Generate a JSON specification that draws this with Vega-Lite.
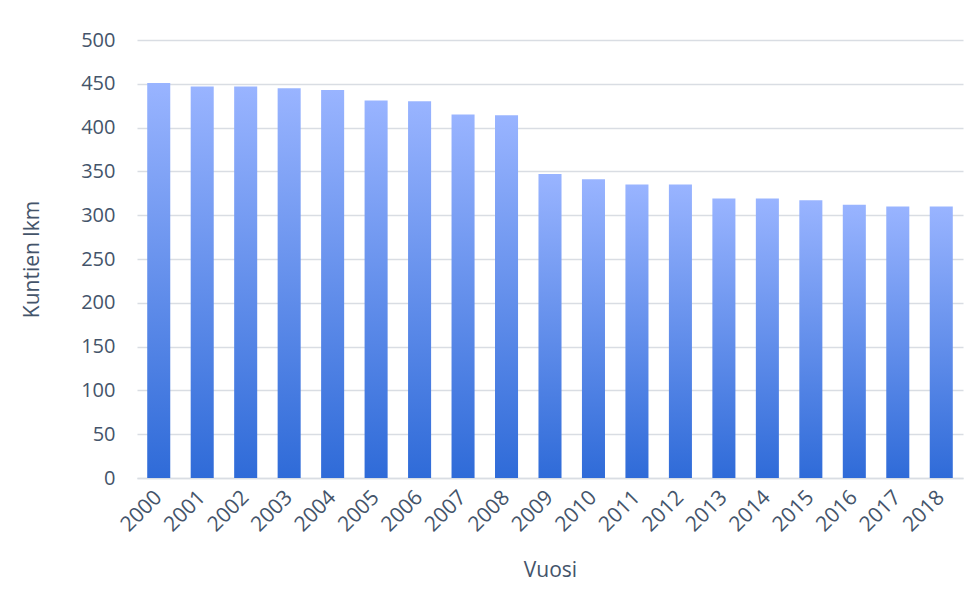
{
  "$schema": "https://vega.github.io/schema/vega-lite/v6.json",
  "width": 826,
  "height": 438,
  "autosize": "none",
  "padding": {"left": 137, "top": 40, "right": 16, "bottom": 131},
  "background": "#ffffff",
  "data": {"values": [
    {"vuosi": "2000", "kunnat": 451},
    {"vuosi": "2001", "kunnat": 447},
    {"vuosi": "2002", "kunnat": 447},
    {"vuosi": "2003", "kunnat": 445},
    {"vuosi": "2004", "kunnat": 443},
    {"vuosi": "2005", "kunnat": 431},
    {"vuosi": "2006", "kunnat": 430},
    {"vuosi": "2007", "kunnat": 415},
    {"vuosi": "2008", "kunnat": 414},
    {"vuosi": "2009", "kunnat": 347},
    {"vuosi": "2010", "kunnat": 341},
    {"vuosi": "2011", "kunnat": 335},
    {"vuosi": "2012", "kunnat": 335},
    {"vuosi": "2013", "kunnat": 319},
    {"vuosi": "2014", "kunnat": 319},
    {"vuosi": "2015", "kunnat": 317},
    {"vuosi": "2016", "kunnat": 312},
    {"vuosi": "2017", "kunnat": 310},
    {"vuosi": "2018", "kunnat": 310}
  ]},
  "mark": {
    "type": "bar",
    "color": {
      "gradient": "linear",
      "x1": 0, "y1": 1, "x2": 0, "y2": 0,
      "stops": [
        {"offset": 0, "color": "#2f6bd8"},
        {"offset": 1, "color": "#99b4ff"}
      ]
    }
  },
  "encoding": {
    "x": {
      "field": "vuosi",
      "type": "ordinal",
      "title": "Vuosi",
      "scale": {"paddingInner": 0.47, "paddingOuter": 0.235},
      "axis": {
        "labelAngle": -45,
        "labelAlign": "right",
        "labelBaseline": "middle",
        "labelFontSize": 21,
        "labelColor": "#44546a",
        "labelPadding": 16,
        "ticks": false,
        "domainColor": "#d9dde3",
        "domainWidth": 1.5,
        "titleFontSize": 21,
        "titleFontWeight": "normal",
        "titleColor": "#44546a",
        "titlePadding": 24
      }
    },
    "y": {
      "field": "kunnat",
      "type": "quantitative",
      "title": "Kuntien lkm",
      "scale": {"domain": [0, 500], "nice": false},
      "axis": {
        "values": [0, 50, 100, 150, 200, 250, 300, 350, 400, 450, 500],
        "labelFontSize": 20,
        "labelColor": "#44546a",
        "labelPadding": 22,
        "ticks": false,
        "domain": false,
        "gridColor": "#d9dde3",
        "gridWidth": 1.5,
        "titleFontSize": 21,
        "titleFontWeight": "normal",
        "titleColor": "#44546a",
        "titlePadding": 38
      }
    }
  },
  "config": {
    "font": "Open Sans",
    "view": {"stroke": null}
  }
}
